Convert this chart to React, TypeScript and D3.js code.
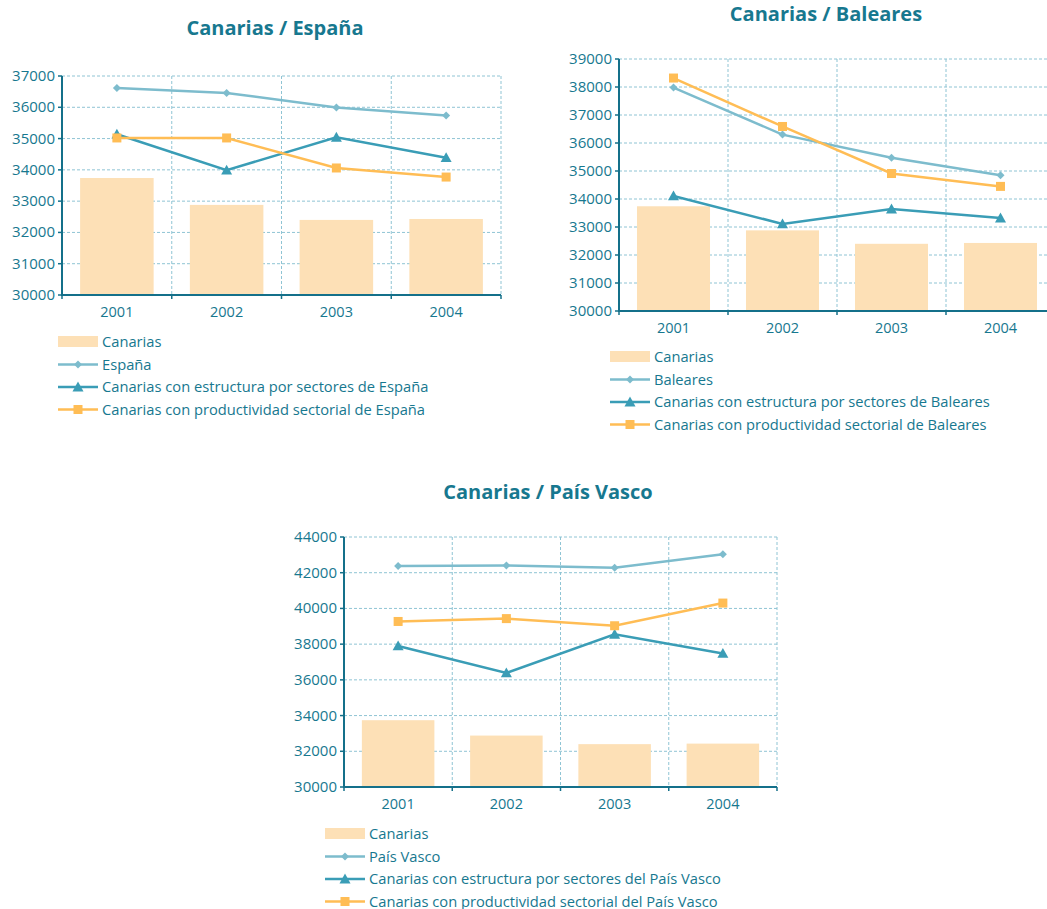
import React from "react";
import * as d3 from "d3";

const years = ["2001", "2002", "2003", "2004"];

const canarias = [33740, 32880, 32400, 32430];

const espana = [36620, 36460, 35990, 35740];
const espEstructura = [35140, 33990, 35040, 34390];
const espProductividad = [35020, 35020, 34060, 33770];

const baleares = [37980, 36300, 35470, 34850];
const balEstructura = [34110, 33110, 33640, 33320];
const balProductividad = [38320, 36590, 34910, 34450];

const vasco = [42380, 42410, 42280, 43030];
const vasEstructura = [37900, 36390, 38550, 37480];
const vasProductividad = [39270, 39430, 39030, 40300];

const ticksEsp = [30000, 31000, 32000, 33000, 34000, 35000, 36000, 37000];
const ticksBal = [30000, 31000, 32000, 33000, 34000, 35000, 36000, 37000, 38000, 39000];
const ticksVas = [30000, 32000, 34000, 36000, 38000, 40000, 42000, 44000];

const legendEsp = ["Canarias", "España", "Canarias con estructura por sectores de España", "Canarias con productividad sectorial de España"];
const legendBal = ["Canarias", "Baleares", "Canarias con estructura por sectores de Baleares", "Canarias con productividad sectorial de Baleares"];
const legendVas = ["Canarias", "País Vasco", "Canarias con estructura por sectores del País Vasco", "Canarias con productividad sectorial del País Vasco"];

const TEXT = "#17788f";
const AXIS = "#14708a";
const GRID = "#8fc4d4";
const BAR = "#fde0b6";
const C_REGION = "#7dbccd";
const C_EST = "#3a9db6";
const C_PROD = "#ffbd55";
const FONT = "'Open Sans', 'Noto Sans', sans-serif";

type PanelProps = {
  title: string;
  titleX: number;
  titleY: number;
  x0: number;
  x1: number;
  yTop: number;
  yBottom: number;
  ticks: number[];
  region: number[];
  est: number[];
  prod: number[];
  legend: string[];
  legendX: number;
  legendY: number;
};

function Marker({ kind, x, y, color }: { kind: string; x: number; y: number; color: string }) {
  if (kind === "diamond") {
    const s = 4;
    return <path d={`M${x},${y - s}L${x + s},${y}L${x},${y + s}L${x - s},${y}Z`} fill={color} />;
  }
  if (kind === "triangle") {
    const s = 5.5;
    return <path d={`M${x},${y - s}L${x + s},${y + s * 0.8}L${x - s},${y + s * 0.8}Z`} fill={color} />;
  }
  const s = 4.5;
  return <rect x={x - s} y={y - s} width={2 * s} height={2 * s} fill={color} />;
}

function Panel(p: PanelProps) {
  const x = d3.scaleBand<string>().domain(years).range([p.x0, p.x1]).paddingInner(0.33).paddingOuter(0.165);
  const xb = d3.scaleBand<string>().domain(years).range([p.x0, p.x1]);
  const y = d3.scaleLinear().domain([p.ticks[0], p.ticks[p.ticks.length - 1]]).range([p.yBottom, p.yTop]);
  const cx = (yr: string) => (xb(yr) as number) + xb.bandwidth() / 2;
  const line = d3.line<number>().x((_, i) => cx(years[i])).y((v) => y(v));
  const series = [
    { vals: p.region, color: C_REGION, kind: "diamond", w: 2.5 },
    { vals: p.est, color: C_EST, kind: "triangle", w: 2.5 },
    { vals: p.prod, color: C_PROD, kind: "square", w: 2.5 },
  ];
  const boundaries = years.map((yr) => (xb(yr) as number) + xb.bandwidth());
  return (
    <g>
      <text x={p.titleX} y={p.titleY} textAnchor="middle" fill={TEXT} fontFamily={FONT} fontWeight="bold" fontSize={20}>
        {p.title}
      </text>
      {p.ticks.slice(1).map((t) => (
        <line key={"h" + t} x1={p.x0} x2={p.x1} y1={y(t)} y2={y(t)} stroke={GRID} strokeDasharray="3,2" strokeWidth={1} />
      ))}
      {boundaries.map((b, i) => (
        <line key={"v" + i} x1={b} x2={b} y1={p.yTop} y2={p.yBottom} stroke={GRID} strokeDasharray="3,2" strokeWidth={1} />
      ))}
      {years.map((yr, i) => (
        <rect key={"b" + yr} x={x(yr)} width={x.bandwidth()} y={y(canarias[i])} height={p.yBottom - y(canarias[i])} fill={BAR} />
      ))}
      <line x1={p.x0} x2={p.x0} y1={p.yTop} y2={p.yBottom} stroke={AXIS} strokeWidth={2} />
      <line x1={p.x0 - 1} x2={p.x1} y1={p.yBottom} y2={p.yBottom} stroke={AXIS} strokeWidth={2} />
      {p.ticks.map((t) => (
        <g key={"t" + t}>
          <line x1={p.x0 - 4} x2={p.x0} y1={y(t)} y2={y(t)} stroke={AXIS} strokeWidth={1.5} />
          <text x={p.x0 - 7} y={y(t) + 5} textAnchor="end" fill={TEXT} fontFamily={FONT} fontSize={15}>
            {t}
          </text>
        </g>
      ))}
      {[p.x0, ...boundaries].map((b, i) => (
        <line key={"xt" + i} x1={b} x2={b} y1={p.yBottom} y2={p.yBottom + 4} stroke={AXIS} strokeWidth={1.5} />
      ))}
      {years.map((yr) => (
        <text key={"yl" + yr} x={cx(yr)} y={p.yBottom + 22} textAnchor="middle" fill={TEXT} fontFamily={FONT} fontSize={14.5}>
          {yr}
        </text>
      ))}
      {series.map((s, si) => (
        <g key={"s" + si}>
          <path d={line(s.vals) || ""} fill="none" stroke={s.color} strokeWidth={s.w} />
          {s.vals.map((v, i) => (
            <Marker key={i} kind={s.kind} x={cx(years[i])} y={y(v)} color={s.color} />
          ))}
        </g>
      ))}
      {p.legend.map((lab, i) => {
        const ly = p.legendY + i * 22.5;
        return (
          <g key={"l" + i}>
            {i === 0 ? (
              <rect x={p.legendX} y={ly - 6} width={40} height={11} fill={BAR} />
            ) : (
              <g>
                <line x1={p.legendX} x2={p.legendX + 40} y1={ly} y2={ly} stroke={series[i - 1].color} strokeWidth={2.5} />
                <Marker kind={series[i - 1].kind} x={p.legendX + 20} y={ly} color={series[i - 1].color} />
              </g>
            )}
            <text x={p.legendX + 44} y={ly + 5} fill={TEXT} fontFamily={FONT} fontSize={14.7}>
              {lab}
            </text>
          </g>
        );
      })}
    </g>
  );
}

export default function App() {
  return (
    <svg width={1047} height={909} style={{ position: "absolute", left: 0, top: 0, overflow: "hidden" }}>
      <rect x={0} y={0} width={1047} height={909} fill="#ffffff" />
      <Panel title="Canarias / España" titleX={275} titleY={35} x0={62} x1={501} yTop={76} yBottom={295}
        ticks={ticksEsp} region={espana} est={espEstructura} prod={espProductividad}
        legend={legendEsp} legendX={58} legendY={342} />
      <Panel title="Canarias / Baleares" titleX={826} titleY={21} x0={619} x1={1055} yTop={59} yBottom={311}
        ticks={ticksBal} region={baleares} est={balEstructura} prod={balProductividad}
        legend={legendBal} legendX={610} legendY={357} />
      <Panel title="Canarias / País Vasco" titleX={548} titleY={499} x0={344} x1={777} yTop={537} yBottom={787}
        ticks={ticksVas} region={vasco} est={vasEstructura} prod={vasProductividad}
        legend={legendVas} legendX={325} legendY={834} />
    </svg>
  );
}
